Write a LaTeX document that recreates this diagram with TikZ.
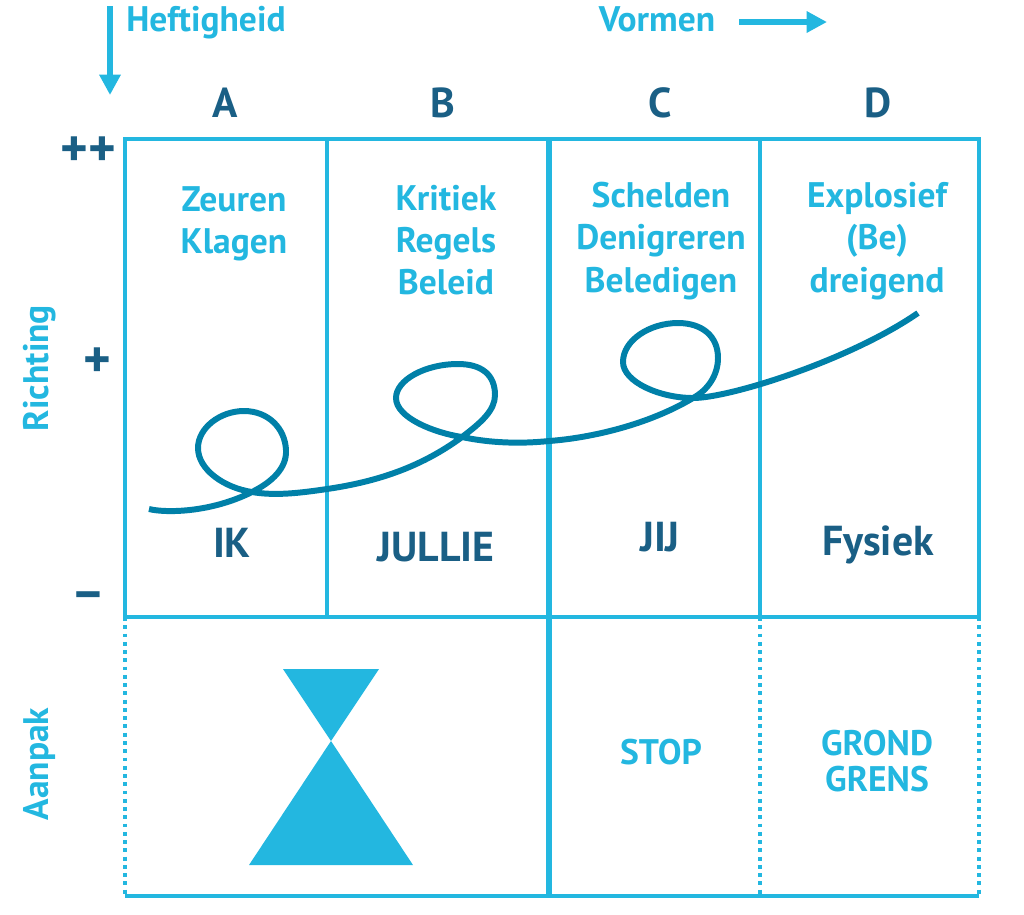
\documentclass[tikz,border=0pt]{standalone}
\usepackage{fontspec}
\setmainfont{PT Sans}
\usepackage{tikz}
\usetikzlibrary{arrows.meta}
\definecolor{lightblue}{HTML}{23B7E0}
\definecolor{darkblue}{HTML}{1A5F85}
\definecolor{curveblue}{HTML}{0080A8}
\begin{document}
\begin{tikzpicture}[x=0.01cm, y=-0.01cm,
  gridline/.style={lightblue, line width=0.95pt},
  thickline/.style={lightblue, line width=1.6pt},
  dotline/.style={lightblue, line width=1.1pt, dash pattern=on 1.1pt off 1.25pt},
  axisarrow/.style={lightblue, line width=1.6pt, -{Triangle[length=5.8pt,width=5.8pt]}},
  lightlabel/.style={lightblue, align=center, inner sep=0pt, font=\fontsize{10.1}{12.05}\selectfont\bfseries},
  darklabel/.style={darkblue, align=center, inner sep=0pt, font=\fontsize{11.9}{14}\selectfont\bfseries},
  signlabel/.style={darkblue, inner sep=0pt, font=\fontsize{15}{18}\selectfont\bfseries}]
\useasboundingbox (0,0) rectangle (1024,914);
\draw[gridline] (125,139) rectangle (979,617);
\draw[gridline] (327,139) -- (327,617);
\draw[gridline] (760,139) -- (760,617);
\draw[thickline] (549,139) -- (549,896);
\draw[gridline] (125,896) -- (979,896);
\draw[dotline] (125,617) -- (125,896);
\draw[dotline] (760,617) -- (760,896);
\draw[dotline] (979,617) -- (979,896);
\coordinate (heftstart) at (110,6);
\coordinate (heftend) at (110,95);
\coordinate (vormstart) at (739,22);
\coordinate (vormend) at (827,22);
\draw[axisarrow] (heftstart) -- (heftend);
\draw[axisarrow] (vormstart) -- (vormend);
\node[lightlabel] (heftigheid) at (206,23) {Heftigheid};
\node[lightlabel] (vormen) at (657,19) {Vormen};
\node[darklabel] (colA) at (225,103) {A};
\node[darklabel] (colB) at (443,103) {B};
\node[darklabel] (colC) at (660,103) {C};
\node[darklabel] (colD) at (878,103) {D};
\node[signlabel] (plusplus) at (88,152) {++};
\node[signlabel] (plus) at (97,363) {+};
\node[signlabel] (minus) at (88,602) {\textminus};
\node[lightlabel, rotate=90] (richting) at (40,368) {Richting};
\node[lightlabel, rotate=90] (aanpak) at (40,764) {Aanpak};
\node[lightlabel] (zeuren) at (234,224) {Zeuren\\Klagen};
\node[lightlabel] (kritiek) at (446,240) {Kritiek\\Regels\\Beleid};
\node[lightlabel] (schelden) at (661,241) {Schelden\\Denigreren\\Beledigen};
\node[lightlabel] (explosief) at (877,241) {Explosief\\(Be)\\dreigend};
\node[darklabel] (ik) at (232,543) {IK};
\node[darklabel] (jullie) at (436,547) {JULLIE};
\node[darklabel] (jij) at (660,537) {JIJ};
\node[darklabel] (fysiek) at (878,545) {Fysiek};
\node[lightlabel] (stop) at (661,752) {STOP};
\node[lightlabel, font=\fontsize{10.1}{10.2}\selectfont\bfseries] (grond) at (877,761) {GROND\\GRENS};
\fill[lightblue] (283,669) -- (379,669) -- (331,741) -- cycle;
\fill[lightblue] (331,741) -- (413,865) -- (249,865) -- cycle;
\draw[curveblue, line width=1.7pt]
  (149,509) .. controls (165,513) and (210,513) .. (252,492)
  .. controls (272,482) and (287,468) .. (286,450)
  .. controls (285,428) and (268,411) .. (244,411)
  .. controls (220,411) and (198,428) .. (198,448)
  .. controls (198,470) and (225,488) .. (252,492)
  .. controls (275,496) and (300,493) .. (327,489)
  .. controls (375,482) and (420,468) .. (462,437)
  .. controls (482,422) and (495,410) .. (495,395)
  .. controls (495,375) and (482,364) .. (458,364)
  .. controls (425,364) and (396,380) .. (396,398)
  .. controls (396,418) and (435,433) .. (462,437)
  .. controls (490,443) and (520,444) .. (549,441)
  .. controls (590,438) and (648,425) .. (693,398)
  .. controls (708,390) and (718,375) .. (718,358)
  .. controls (718,336) and (702,323) .. (678,323)
  .. controls (650,323) and (623,340) .. (623,362)
  .. controls (623,382) and (660,398) .. (693,398)
  .. controls (730,398) and (850,360) .. (918,313);
\end{tikzpicture}
\end{document}
